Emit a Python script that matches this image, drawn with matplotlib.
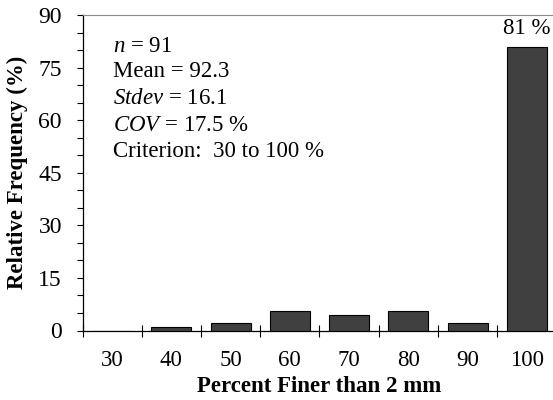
import matplotlib
matplotlib.use('Agg')
import matplotlib.pyplot as plt
from matplotlib.ticker import MultipleLocator, FixedLocator

plt.rcParams['font.family'] = ['Liberation Serif', 'DejaVu Serif']
plt.rcParams['mathtext.fontset'] = 'custom'
plt.rcParams['mathtext.rm'] = 'Liberation Serif'
plt.rcParams['mathtext.it'] = 'Liberation Serif:italic'

# data
categories = ['30', '40', '50', '60', '70', '80', '90', '100']
freq = [0.0, 1.1, 2.2, 5.5, 4.4, 5.5, 2.2, 81.0]
stats_lines = [r'$n$ = 91', 'Mean = 92.3', r'$Stdev$ = 16.1',
               r'$COV$ = 17.5 %', 'Criterion:  30 to 100 %']

fs = 16.5
fig = plt.figure(figsize=(5.53, 4.0), dpi=100)
ax = fig.add_axes([0.1492, 0.17375, 0.857, 0.78875])

x = list(range(len(categories)))
ax.bar(x, freq, width=0.675, color='#404040', edgecolor='black', linewidth=0.8, zorder=3)

# label on the tallest bar
top = max(freq)
ax.text(x[freq.index(top)], top + 2.2, f'{top:.0f} %', ha='center', va='bottom', fontsize=fs)

ax.set_xlim(-0.5, len(categories) - 0.5)
ax.set_ylim(0, 90)
ax.set_xticks(x)
ax.set_xticklabels(categories)
ax.xaxis.set_minor_locator(FixedLocator([i - 0.5 for i in range(len(categories) + 1)]))
ax.tick_params(axis='x', which='major', length=0, pad=14, labelsize=fs)
ax.tick_params(axis='x', which='minor', direction='inout', length=8, width=0.8)

ax.yaxis.set_major_locator(MultipleLocator(15))
ax.yaxis.set_minor_locator(MultipleLocator(5))
ax.tick_params(axis='y', which='both', direction='out', length=4.3, width=0.8, labelsize=17, pad=10.5)

ax.spines['right'].set_visible(False)
ax.spines['top'].set_color('#8c8c8c')
ax.spines['left'].set_linewidth(0.9)
ax.spines['bottom'].set_linewidth(0.9)

ax.set_xlabel('Percent Finer than 2 mm', fontsize=fs, fontweight='bold', labelpad=4)
ax.set_ylabel('Relative Frequency (%)', fontsize=fs, fontweight='bold', va='center')
ax.yaxis.set_label_coords(-0.137, 0.5)

ys = [0.8837, 0.8025, 0.7179, 0.6333, 0.5499]
for s, yy in zip(stats_lines, ys):
    ax.text(0.0643, yy, s, transform=ax.transAxes, fontsize=fs, va='baseline', ha='left')

fig.savefig('out.png', dpi=100)
